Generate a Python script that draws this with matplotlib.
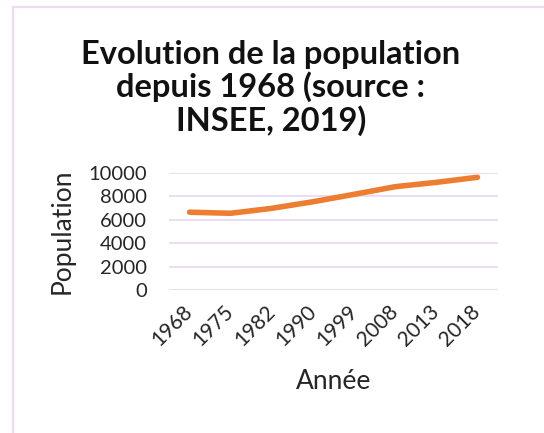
import matplotlib
matplotlib.use("Agg")
import matplotlib.pyplot as plt
from matplotlib.lines import Line2D

# Data
years = ["1968", "1975", "1982", "1990", "1999", "2008", "2013", "2018"]
population = [6640, 6550, 6970, 7530, 8160, 8810, 9180, 9610]
yticks = [0, 2000, 4000, 6000, 8000, 10000]

LINE_COLOR = "#ED7D31"
GRID_COLOR = "#EEDAF4"
FONT = ["Lato", "DejaVu Sans"]

plt.rcParams["font.family"] = FONT

fig = plt.figure(figsize=(5.44, 4.33), dpi=100)
W, H = 544, 433

# frame of the chart box (partly cropped)
fig.add_artist(Line2D([13 / W, 13 / W], [0, 1 - 7 / H], color=GRID_COLOR, lw=1.6,
                      transform=fig.transFigure))
fig.add_artist(Line2D([13 / W, 1], [1 - 7 / H, 1 - 7 / H], color=GRID_COLOR, lw=1.6,
                      transform=fig.transFigure))

left, right = 169 / W, 498 / W
bottom, top = 1 - 290.3 / H, 1 - 172.7 / H
ax = fig.add_axes([left, bottom, right - left, top - bottom])

x = list(range(len(years)))
ax.plot(x, population, color=LINE_COLOR, linewidth=4, solid_capstyle="round")

ax.set_xlim(-0.5, len(years) - 0.5)
ax.set_ylim(0, 10000)
ax.set_yticks(yticks)
ax.set_yticklabels([str(v) for v in yticks], fontsize=14.5, color="#262626")
ax.set_xticks(x)
ax.set_xticklabels(years, fontsize=15, color="#262626", rotation=45,
                   ha="right", va="center", rotation_mode="anchor")
ax.tick_params(axis="y", length=0, pad=16)
ax.tick_params(axis="x", length=0, pad=13)

ax.grid(axis="y", color=GRID_COLOR, linewidth=1.4)
ax.set_axisbelow(True)
for s in ax.spines.values():
    s.set_visible(False)

ax.set_ylabel("Population", fontsize=19, color="#262626", labelpad=10)
ax.set_xlabel("Année", fontsize=19, color="#262626", labelpad=14)

fig.text(271 / W, 1 - 88 / H,
         "Evolution de la population\ndepuis 1968 (source :\nINSEE, 2019)",
         ha="center", va="center", fontsize=23.5, fontweight="bold",
         linespacing=1.1, color="#111111")

fig.savefig("out.png", dpi=100)
